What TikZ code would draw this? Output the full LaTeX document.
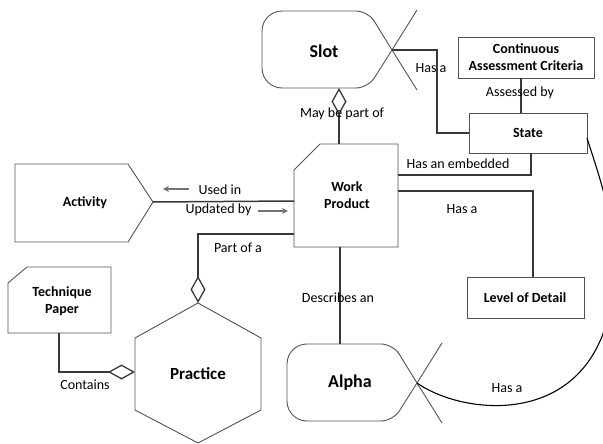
\documentclass[tikz,border=0pt]{standalone}
\usepackage{fontspec}
\setmainfont{Carlito}
\usetikzlibrary{arrows.meta}
\begin{document}
\begin{tikzpicture}[x=1pt,y=-1pt,
  shapeline/.style={draw=black!68, line width=0.9pt},
  conn/.style={draw=black!78, line width=1.5pt},
  curveline/.style={draw=black, line width=1.1pt},
  lbl/.style={font=\fontsize{14}{17}\selectfont, inner sep=0pt},
  ttl/.style={font=\fontsize{14}{17}\selectfont\bfseries, align=center, inner sep=0pt},
  big/.style={font=\fontsize{18}{20}\selectfont\bfseries, inner sep=0pt},
  hintarrow/.style={draw=black!55, line width=1.3pt, -{Stealth[length=6pt,width=6pt]}},
  agg/.style={{Diamond[open,length=27pt,width=15pt,line width=1.3pt]}-},
  pics/xshape/.style={code={
    \draw[shapeline] (130,39) [rounded corners=12pt]-- (106,0) [rounded corners=20pt]-- (0,0) -- (0,77) [rounded corners=12pt]-- (106,77) [sharp corners]-- cycle;
    \draw[shapeline] (130,39) -- (155,-1);
    \draw[shapeline] (130,39) -- (155,79);
  }}
]
\useasboundingbox (0,0) rectangle (603,444);
\clip (0,0) rectangle (603,444);

% ---------- shapes ----------
\pic at (262,11) {xshape};
\node[big] (slot) at (324,51) {Slot};
\pic at (287,344) {xshape};
\node[big] (alpha) at (350,383) {Alpha};

\draw[shapeline] (294,170) -- (320,144) -- (398,144) -- (398,247) -- (294,247) -- cycle;
\node[ttl] (wp) at (347,195) {Work\\Product};

\draw[shapeline] (15,164) -- (128,164) -- (153,202) -- (128,242) -- (15,242) -- cycle;
\node[ttl] (activity) at (85,203) {Activity};

\draw[shapeline] (8,283) -- (27,267) -- (111,267) -- (111,333) -- (8,333) -- cycle;
\node[ttl] (tp) at (62,301) {Technique\\Paper};

\draw[shapeline] (198,303) -- (261,338) -- (261,410) -- (198,443) -- (135,410) -- (135,338) -- cycle;
\node[ttl] (practice) at (198,374) {\fontsize{17}{20}\selectfont Practice};

\draw[shapeline] (458,37) rectangle (594,78);
\node[ttl] (cac) at (526,57.5) {Continuous\\Assessment Criteria};
\draw[shapeline] (469,113) rectangle (587,153);
\node[ttl] (state) at (528,133) {State};
\draw[shapeline] (467,277) rectangle (584,318);
\node[ttl] (lod) at (525,298) {Level of Detail};

% ---------- connection points ----------
\coordinate (slotX) at (392,50);
\coordinate (slotS) at (339,88);
\coordinate (alphaX) at (417,383);
\coordinate (alphaN) at (340,344);
\coordinate (wpN) at (339,144);
\coordinate (wpS) at (340,247);
\coordinate (wpE1) at (398,175);
\coordinate (wpE2) at (398,191);
\coordinate (wpW1) at (294,201);
\coordinate (wpW2) at (294,234);
\coordinate (actE) at (153,202);
\coordinate (stateW) at (469,133);
\coordinate (stateN) at (521,113);
\coordinate (stateS) at (531,153);
\coordinate (stateE) at (587,138);
\coordinate (cacS) at (521,78);
\coordinate (lodN) at (533,277);
\coordinate (practN) at (198,303);
\coordinate (practW) at (135,372);
\coordinate (tpS) at (59,333);

% ---------- connectors ----------
\draw[conn, agg] (slotS) -- (wpN);
\draw[conn] (slotX) -- (437,50) -- (437,133) -- (stateW);
\draw[conn] (cacS) -- (stateN);
\draw[conn] (wpE1) -- (531,175) -- (stateS);
\draw[conn] (wpE2) -- (533,191) -- (lodN);
\draw[conn] (wpS) -- (alphaN);
\draw[conn] (actE) -- (wpW1);
\draw[conn, agg] (practN) -- (198,234) -- (wpW2);
\draw[conn, agg] (practW) -- (59,372) -- (tpS);
\draw[curveline] (alphaX) .. controls (470,420) and (614,430) .. (614,265)
                 .. controls (614,215) and (597,170) .. (stateE);

% ---------- labels ----------
\node[lbl] (l1) at (342,114) {May be part of};
\node[lbl] (l2) at (431,68) {Has a};
\node[lbl] (l3) at (520,93) {Assessed by};
\node[lbl] (l4) at (458,164) {Has an embedded};
\node[lbl] (l5) at (462,209) {Has a};
\node[lbl] (l6) at (220,190) {Used in};
\node[lbl] (l7) at (218.5,210) {Updated by};
\node[lbl] (l8) at (238,248) {Part of a};
\node[lbl] (l9) at (338,298) {Describes an};
\node[lbl] (l10) at (85,385) {Contains};
\node[lbl] (l11) at (507,388) {Has a};

\coordinate (a1s) at (189,189);
\coordinate (a1e) at (163,189);
\coordinate (a2s) at (258,211);
\coordinate (a2e) at (288,211);
\draw[hintarrow] (a1s) -- (a1e);
\draw[hintarrow] (a2s) -- (a2e);
\end{tikzpicture}
\end{document}
